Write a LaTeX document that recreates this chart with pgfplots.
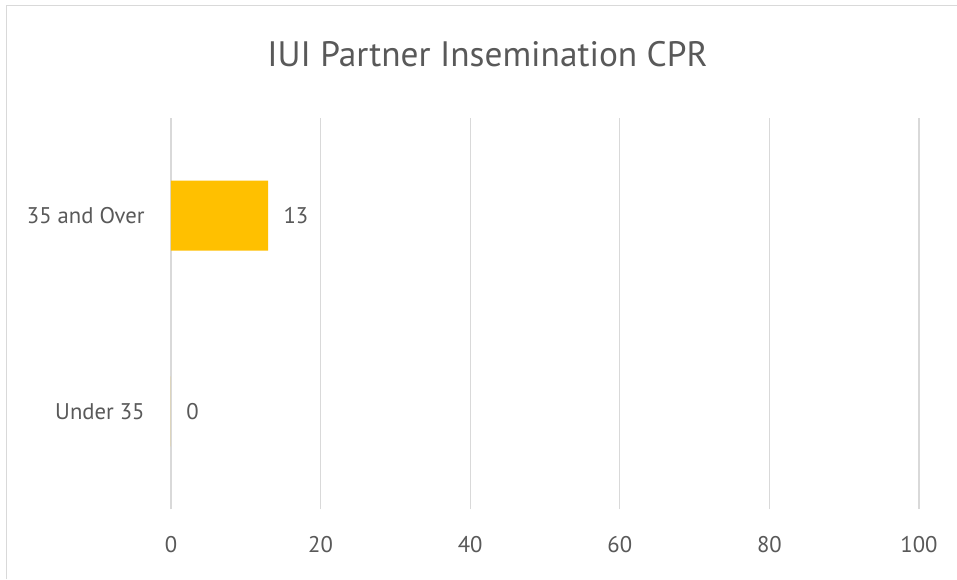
\documentclass[border=0pt]{standalone}
\usepackage{pgfplots}
\pgfplotsset{compat=1.18}
\usepackage{fontspec}
\setmainfont{PT Sans}
\definecolor{txt}{HTML}{595959}
\definecolor{grd}{HTML}{D9D9D9}
\definecolor{bar}{HTML}{FFC000}
\begin{document}
\begin{tikzpicture}
\path[use as bounding box, fill=white] (0pt,0pt) rectangle (717.75pt,434.25pt);
\draw[grd, line width=1.2pt] (4.9pt,0pt) -- (4.9pt,430.1pt) -- (717.75pt,430.1pt);
\node[txt, font=\fontsize{26.5}{30}\selectfont] at (365.6pt,393.5pt) {IUI Partner Insemination CPR};
\begin{axis}[
  at={(128.25pt,52.5pt)}, anchor=south west,
  scale only axis, width=561pt, height=293.25pt,
  xbar, bar width=52.5pt,
  xmin=0, xmax=100, ymin=-0.5, ymax=1.5,
  xtick={0,20,40,60,80,100},
  ytick={0,1}, yticklabels={Under 35, 35 and Over},
  xmajorgrids, grid style={grd, line width=0.9pt},
  axis line style={draw=none},
  major tick style={draw=none},
  tick label style={txt, font=\fontsize{17}{20}\selectfont},
  /pgf/number format/assume math mode=true,
  xticklabel style={yshift=-17pt},
  yticklabel style={xshift=-12pt},
  nodes near coords,
  nodes near coords style={txt, font=\fontsize{17}{20}\selectfont, anchor=west, xshift=8pt, /pgf/number format/assume math mode=true},
  clip=false,
]
\addplot[fill=bar, draw=none] coordinates {(0,0) (13,1)};
\end{axis}
\end{tikzpicture}
\end{document}
